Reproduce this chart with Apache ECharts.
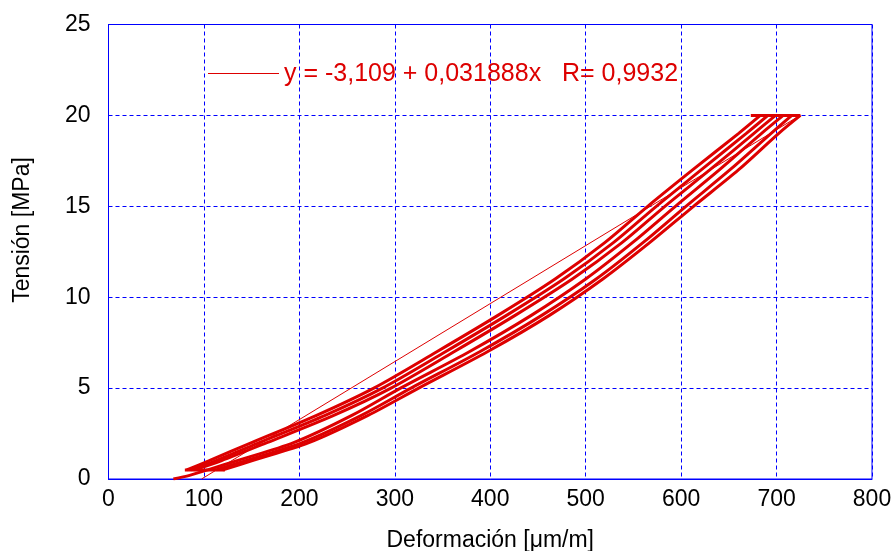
<!DOCTYPE html>
<html>
<head>
<meta charset="utf-8">
<script src="https://cdn.jsdelivr.net/npm/echarts@6/dist/echarts.min.js"></script>
<style>
html, body { margin: 0; padding: 0; background: #fff; }
#chart { width: 895px; height: 551px; }
</style>
</head>
<body>
<div id="chart"></div>
<script>
// niveles de tensión [MPa] comunes a todas las curvas
var tensiones = [0.5, 1, 2, 3.5, 5, 7, 9, 11, 13, 15, 17, 19, 20];

// deformaciones [um/m] de las ramas de carga
var carga1 = [104, 134, 194, 255, 306, 378, 443, 500, 549, 594, 640, 684, 707];
var carga2 = [113, 143, 203, 265, 317, 389, 454, 511, 560, 605, 651, 694, 716];
var carga3 = [120, 150, 210, 272, 325, 397, 462, 518, 567, 613, 660, 702, 725];

// ramas de descarga
var descarga1 = [82, 105, 150, 218, 278, 344, 408, 468, 520, 565, 612, 660, 683];
var descarga2 = [86, 112, 158, 227, 287, 353, 417, 477, 529, 574, 621, 668, 691];
var descarga3 = [90, 118, 166, 236, 296, 362, 426, 486, 538, 583, 630, 676, 699];

// primer tramo de carga desde cero
var inicioX = [68, 85, 104];
var inicioY = [0, 0.2, 0.5];

// mantenimientos a tensión máxima y mínima
var topeX = [673, 725];
var topeY = [20, 20];
var baseX = [80, 122];
var baseY = [0.5, 0.5];

// recta de ajuste (extremos)
var ajusteX = [97.5, 724.6];
var ajusteY = [0, 20];
var ajusteTexto = 'y = -3,109 + 0,031888x   R= 0,9932';

var xTicks = [0, 800, 100];
var yTicks = [0, 25, 5];

function pares(xs, ys) {
    var out = [];
    for (var i = 0; i < xs.length; i++) out.push([xs[i], ys[i]]);
    return out;
}

var rojo = '#dd0000';
var azul = '#0000ff';
var fuente = 'Liberation Sans, Arial, sans-serif';

function curva(nombre, xs, ys) {
    return {
        name: nombre,
        type: 'line',
        data: pares(xs, ys),
        symbol: 'none',
        smooth: 0.3,
        lineStyle: { color: rojo, width: 3 },
        z: 3
    };
}

var series = [
    curva('inicio', inicioX, inicioY),
    curva('carga1', carga1, tensiones),
    curva('carga2', carga2, tensiones),
    curva('carga3', carga3, tensiones),
    curva('descarga1', descarga1, tensiones),
    curva('descarga2', descarga2, tensiones),
    curva('descarga3', descarga3, tensiones),
    curva('tope', topeX, topeY),
    curva('base', baseX, baseY),
    {
        name: 'ajuste',
        type: 'line',
        data: pares(ajusteX, ajusteY),
        symbol: 'none',
        lineStyle: { color: rojo, width: 1 },
        z: 4
    }
];

var chart = echarts.init(document.getElementById('chart'));
var option = {
    animation: false,
    grid: {
        left: 108.5,
        right: 23,
        top: 24.5,
        bottom: 72,
        outerBoundsMode: 'none',
        containLabel: false,
        show: true,
        borderColor: azul,
        borderWidth: 1
    },
    xAxis: {
        type: 'value',
        min: xTicks[0],
        max: xTicks[1],
        interval: xTicks[2],
        name: 'Deformación [μm/m]',
        nameLocation: 'middle',
        nameGap: 50,
        nameTextStyle: { color: '#000', fontSize: 23, fontFamily: fuente },
        axisLine: { show: true, lineStyle: { color: azul, width: 1 } },
        axisTick: { show: false },
        axisLabel: { margin: 9, color: '#000', fontSize: 23, fontFamily: fuente },
        splitLine: {
            show: true,
            lineStyle: { color: azul, width: 1, type: [4, 3] }
        }
    },
    yAxis: {
        type: 'value',
        min: yTicks[0],
        max: yTicks[1],
        interval: yTicks[2],
        axisLine: { show: true, lineStyle: { color: azul, width: 1 } },
        axisTick: { show: false },
        axisLabel: { margin: 18, color: '#000', fontSize: 23, fontFamily: fuente },
        splitLine: {
            show: true,
            lineStyle: { color: azul, width: 1, type: [4, 3] }
        }
    },
    graphic: [{
        type: 'text',
        x: 23,
        y: 230,
        rotation: Math.PI / 2,
        style: {
            text: 'Tensión [MPa]',
            fill: '#000',
            fontSize: 23,
            fontFamily: fuente,
            align: 'center',
            verticalAlign: 'middle'
        }
    }, {
        // leyenda de la recta de ajuste
        type: 'line',
        shape: { x1: 208, y1: 73.5, x2: 279, y2: 73.5 },
        style: { stroke: rojo, lineWidth: 1 },
        z: 10
    }, {
        type: 'text',
        x: 284,
        y: 74,
        style: {
            text: ajusteTexto,
            fill: rojo,
            fontSize: 25,
            fontFamily: fuente,
            align: 'left',
            verticalAlign: 'middle'
        },
        z: 10
    }],
    series: series
};
chart.setOption(option);
</script>
</body>
</html>
